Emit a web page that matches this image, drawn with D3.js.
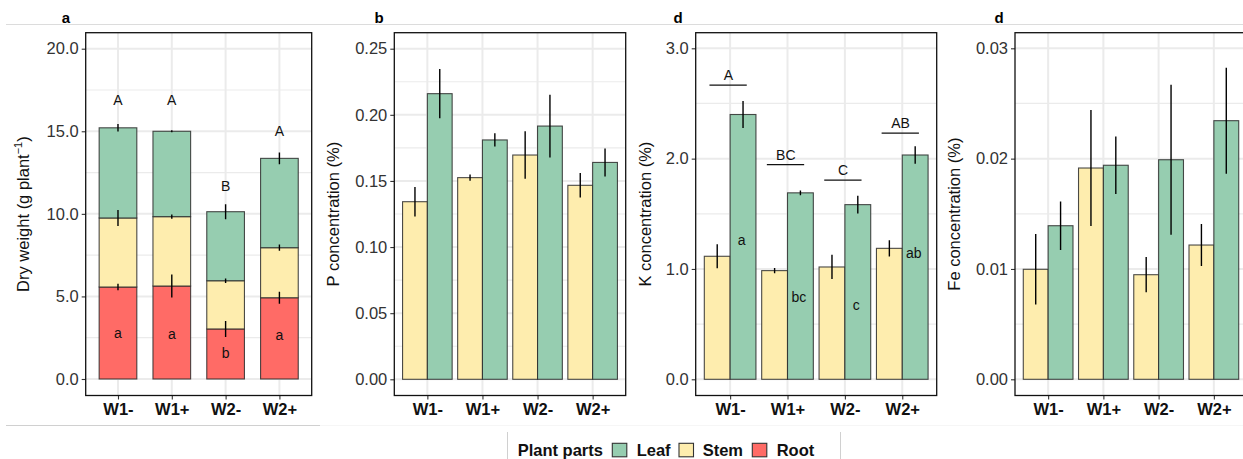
<!DOCTYPE html>
<html><head><meta charset="utf-8">
<script src="https://cdn.jsdelivr.net/npm/d3@7"></script>
<style>
body{margin:0;background:#fff;}
svg{display:block;font-family:"Liberation Sans",Arial,sans-serif;}
</style></head>
<body><svg id="c" width="1243" height="459"></svg>
<script>
// ---------------- data ----------------
const categories = ["W1-","W1+","W2-","W2+"];
const parts = ["Leaf","Stem","Root"];
const partColors = ["#96CDB0","#FEEDAE","#FF6B66"];

// panel a: dry weight (g plant-1), stacked Root / Stem / Leaf
const dryRoot = [5.57, 5.63, 3.03, 4.92];
const dryStem = [4.18, 4.20, 2.92, 3.03];
const dryLeaf = [5.46, 5.17, 4.18, 5.41];
const dryRootErr = [0.20, 0.70, 0.48, 0.36];
const dryStemErr = [0.48, 0.13, 0.13, 0.19];
const dryLeafErr = [0.23, 0.06, 0.45, 0.35];
const dryUpperLetters = ["A","A","B","A"];
const dryUpperLetterY = [16.9, 16.9, 11.7, 15.0];
const dryLowerLetters = ["a","a","b","a"];
const dryLowerLetterY = [2.80, 2.75, 1.55, 2.65];

// panel b: P concentration (%)
const pStem = [0.1343, 0.1525, 0.1696, 0.1467];
const pLeaf = [0.2160, 0.1810, 0.1915, 0.1640];
const pStemErr = [0.0111, 0.0024, 0.0179, 0.0093];
const pLeafErr = [0.0186, 0.0050, 0.0237, 0.0106];

// panel d: K concentration (%)
const kStem = [1.115, 0.985, 1.018, 1.187];
const kLeaf = [2.400, 1.690, 1.583, 2.033];
const kStemErr = [0.109, 0.024, 0.110, 0.074];
const kLeafErr = [0.122, 0.022, 0.080, 0.080];
const kGroupLetters = ["A","BC","C","AB"];
const kGroupLetterY = [2.667, 1.945, 1.806, 2.232];
const kLeafLetters = ["a","bc","c","ab"];
const kLeafLetterY = [1.263, 0.743, 0.673, 1.142];

// panel d: Fe concentration (%)
const feStem = [0.00997, 0.01915, 0.00948, 0.01217];
const feLeaf = [0.01392, 0.01940, 0.01990, 0.02344];
const feStemErr = [0.0032, 0.00526, 0.0016, 0.0019];
const feLeafErr = [0.0022, 0.0026, 0.0068, 0.0048];

const yTicksA = [0, 5, 10, 15, 20];
const yTicksB = [0, 0.05, 0.10, 0.15, 0.20, 0.25];
const yTicksK = [0, 1, 2, 3];
const yTicksFe = [0, 0.01, 0.02, 0.03];

// ---------------- drawing ----------------
const svg = d3.select("#c");
const FONT = 16.5;

// decorative frame lines
svg.append("line").attr("x1",6).attr("x2",1243).attr("y1",24.5).attr("y2",24.5).attr("stroke","#dcdcdc").attr("stroke-width",1);
svg.append("line").attr("x1",6).attr("x2",320).attr("y1",425.5).attr("y2",425.5).attr("stroke","#d0d0d0").attr("stroke-width",1);
svg.append("line").attr("x1",320).attr("x2",1243).attr("y1",425.5).attr("y2",425.5).attr("stroke","#f6f6f6").attr("stroke-width",1);

function makePanel(cfg){
  const g = svg.append("g");
  const x = d3.scalePoint().domain(categories).range([cfg.left, cfg.right]).padding(0.6);
  const step = x.step();
  const y = d3.scaleLinear().domain([0, cfg.topTick]).range([cfg.zeroPx, cfg.topPx]);
  const clipId = "clip"+cfg.id;
  svg.append("clipPath").attr("id",clipId).append("rect")
    .attr("x",cfg.left).attr("y",cfg.top).attr("width",cfg.right-cfg.left).attr("height",cfg.bottom-cfg.top);
  const inner = g.append("g").attr("clip-path",`url(#${clipId})`);
  // minor grid
  const minor = [];
  for(let i=0;i<cfg.ticks.length-1;i++) minor.push((cfg.ticks[i]+cfg.ticks[i+1])/2);
  minor.push(cfg.ticks[cfg.ticks.length-1] + (cfg.ticks[1]-cfg.ticks[0])/2);
  minor.push(cfg.ticks[0] - (cfg.ticks[1]-cfg.ticks[0])/2);
  inner.selectAll(".mg").data(minor).join("line")
    .attr("x1",cfg.left).attr("x2",cfg.right).attr("y1",d=>y(d)).attr("y2",d=>y(d))
    .attr("stroke","#ebebeb").attr("stroke-width",1.2);
  inner.selectAll(".Mg").data(cfg.ticks).join("line")
    .attr("x1",cfg.left).attr("x2",cfg.right).attr("y1",d=>y(d)).attr("y2",d=>y(d))
    .attr("stroke","#ebebeb").attr("stroke-width",2);
  inner.selectAll(".vg").data(categories).join("line")
    .attr("x1",d=>x(d)).attr("x2",d=>x(d)).attr("y1",cfg.top).attr("y2",cfg.bottom)
    .attr("stroke","#ebebeb").attr("stroke-width",2);
  // y axis
  const ya = d3.axisLeft(y).tickValues(cfg.ticks).tickFormat(d3.format(cfg.fmt)).tickSize(4).tickPadding(3);
  const yg = g.append("g").attr("transform",`translate(${cfg.left},0)`).call(ya);
  yg.select(".domain").remove();
  yg.selectAll(".tick line").attr("stroke","#333").attr("stroke-width",1.1);
  yg.selectAll(".tick text").attr("fill","#333").attr("font-size",FONT).attr("font-family","Liberation Sans, Arial, sans-serif");
  // x axis
  const xa = d3.axisBottom(x).tickSize(4).tickPadding(4);
  const xg = g.append("g").attr("transform",`translate(0,${cfg.bottom})`).call(xa);
  xg.select(".domain").remove();
  xg.selectAll(".tick line").attr("stroke","#333").attr("stroke-width",1.1);
  xg.selectAll(".tick text").attr("fill","#111").attr("font-size",FONT).attr("font-weight","bold").attr("font-family","Liberation Sans, Arial, sans-serif");
  // axis title
  const t = g.append("text").attr("transform",`translate(${cfg.titleX},${(cfg.top+cfg.bottom)/2}) rotate(-90)`)
    .attr("text-anchor","middle").attr("dominant-baseline","middle").attr("font-size",FONT).attr("fill","#111");
  cfg.title(t);
  // panel label
  svg.append("text").attr("x",cfg.labelX).attr("y",22.5).attr("text-anchor","middle")
    .attr("font-weight","bold").attr("font-size",15).text(cfg.label);
  return {g, inner, x, y, step, border: ()=>{
    g.append("rect").attr("x",cfg.left).attr("y",cfg.top).attr("width",cfg.right-cfg.left).attr("height",cfg.bottom-cfg.top)
      .attr("fill","none").attr("stroke","#111").attr("stroke-width",1.3);
  }};
}

function errbar(layer, xs, lo, hi){
  layer.append("line").attr("x1",xs).attr("x2",xs).attr("y1",lo).attr("y2",hi)
    .attr("stroke","#000").attr("stroke-width",1.4);
}

// ---- panel a ----
{
  const P = makePanel({id:"a",left:85.7,right:311.7,top:32.7,bottom:395.5,zeroPx:379,topPx:48.7,topTick:20,ticks:yTicksA,fmt:".1f",
    titleX:25,label:"a",labelX:66,
    title:t=>{t.append("tspan").text("Dry weight (g plant");t.append("tspan").attr("baseline-shift","super").attr("font-size",11).text("−1");t.append("tspan").text(")");}});
  const bw = 0.7*P.step;
  const stacks = categories.map((c,i)=>{
    const r=dryRoot[i], s=dryStem[i], l=dryLeaf[i];
    return [
      {c, part:2, y0:0, y1:r, err:dryRootErr[i]},
      {c, part:1, y0:r, y1:r+s, err:dryStemErr[i]},
      {c, part:0, y0:r+s, y1:r+s+l, err:dryLeafErr[i]}
    ];
  }).flat();
  P.inner.selectAll(".bar").data(stacks).join("rect")
    .attr("x",d=>P.x(d.c)-bw/2).attr("width",bw)
    .attr("y",d=>P.y(d.y1)).attr("height",d=>P.y(d.y0)-P.y(d.y1))
    .attr("fill",d=>partColors[d.part]).attr("stroke","#2a2a2a").attr("stroke-width",1.1).attr("stroke-opacity",0.85);
  stacks.forEach(d=>errbar(P.inner, P.x(d.c), P.y(d.y1-d.err), P.y(d.y1+d.err)));
  P.inner.selectAll(".ul").data(categories).join("text")
    .attr("x",d=>P.x(d)).attr("y",(d,i)=>P.y(dryUpperLetterY[i])).attr("text-anchor","middle").attr("dominant-baseline","central")
    .attr("font-size",14).attr("fill","#111").text((d,i)=>dryUpperLetters[i]);
  P.inner.selectAll(".ll").data(categories).join("text")
    .attr("x",d=>P.x(d)).attr("y",(d,i)=>P.y(dryLowerLetterY[i])).attr("text-anchor","middle").attr("dominant-baseline","central")
    .attr("font-size",14).attr("fill","#111").text((d,i)=>dryLowerLetters[i]);
  P.border();
}

function dodged(P, stem, leaf, stemErr, leafErr){
  const bw = 0.45*P.step;
  const rows = categories.map((c,i)=>[
    {c, part:1, v:stem[i], e:stemErr[i], off:-0.225},
    {c, part:0, v:leaf[i], e:leafErr[i], off:0.225}
  ]).flat();
  P.inner.selectAll(".bar").data(rows).join("rect")
    .attr("x",d=>P.x(d.c)+d.off*P.step-bw/2).attr("width",bw)
    .attr("y",d=>P.y(d.v)).attr("height",d=>P.y(0)-P.y(d.v))
    .attr("fill",d=>partColors[d.part]).attr("stroke","#2a2a2a").attr("stroke-width",1.1).attr("stroke-opacity",0.85);
  rows.forEach(d=>errbar(P.inner, P.x(d.c)+d.off*P.step, P.y(d.v-d.e), P.y(d.v+d.e)));
}

// ---- panel b ----
{
  const P = makePanel({id:"b",left:394.3,right:625.7,top:32.7,bottom:395.5,zeroPx:379.3,topPx:48.7,topTick:0.25,ticks:yTicksB,fmt:".2f",
    titleX:335,label:"b",labelX:379,title:t=>t.text("P concentration (%)")});
  dodged(P, pStem, pLeaf, pStemErr, pLeafErr);
  P.border();
}

// ---- panel K ----
{
  const P = makePanel({id:"k",left:695.7,right:936.7,top:32.7,bottom:395.5,zeroPx:379.3,topPx:48.3,topTick:3,ticks:yTicksK,fmt:".1f",
    titleX:647,label:"d",labelX:678,title:t=>t.text("K concentration (%)")});
  dodged(P, kStem, kLeaf, kStemErr, kLeafErr);
  P.inner.selectAll(".gl").data(categories).join("line")
    .attr("x1",d=>P.x(d)-0.36*P.step).attr("x2",d=>P.x(d)+0.29*P.step)
    .attr("y1",(d,i)=>P.y(kGroupLetterY[i])).attr("y2",(d,i)=>P.y(kGroupLetterY[i]))
    .attr("stroke","#111").attr("stroke-width",1.2);
  P.inner.selectAll(".gt").data(categories).join("text")
    .attr("x",d=>P.x(d)-0.03*P.step).attr("y",(d,i)=>P.y(kGroupLetterY[i])-10).attr("text-anchor","middle").attr("dominant-baseline","central")
    .attr("font-size",14).attr("fill","#111").text((d,i)=>kGroupLetters[i]);
  P.inner.selectAll(".lt").data(categories).join("text")
    .attr("x",d=>P.x(d)+0.2*P.step).attr("y",(d,i)=>P.y(kLeafLetterY[i])).attr("text-anchor","middle").attr("dominant-baseline","central")
    .attr("font-size",14).attr("fill","#111").text((d,i)=>kLeafLetters[i]);
  P.border();
}

// ---- panel Fe ----
{
  const P = makePanel({id:"fe",left:1015,right:1247,top:32.7,bottom:395.5,zeroPx:379.3,topPx:48.3,topTick:0.03,ticks:yTicksFe,fmt:".2f",
    titleX:956,label:"d",labelX:999,title:t=>t.text("Fe concentration (%)")});
  dodged(P, feStem, feLeaf, feStemErr, feLeafErr);
  P.border();
}

// ---- legend ----
{
  const lg = svg.append("g");
  lg.append("line").attr("x1",507.5).attr("x2",507.5).attr("y1",432).attr("y2",459).attr("stroke","#d0d0d0");
  lg.append("line").attr("x1",840.5).attr("x2",840.5).attr("y1",432).attr("y2",459).attr("stroke","#d0d0d0");
  lg.append("text").attr("x",517.7).attr("y",455.5).attr("font-weight","bold").attr("font-size",16.5).attr("fill","#111").text("Plant parts");
  const keyX = [612.3, 679, 752.3];
  const txtX = [636.7, 702.7, 776.7];
  parts.forEach((p,i)=>{
    lg.append("rect").attr("x",keyX[i]).attr("y",443.3).attr("width",14.5).attr("height",13.5)
      .attr("fill",partColors[i]).attr("stroke","#333").attr("stroke-width",1.1);
    lg.append("text").attr("x",txtX[i]).attr("y",455.5).attr("font-weight","bold").attr("font-size",16.5).attr("fill","#111").text(p);
  });
}
</script>
</body></html>
